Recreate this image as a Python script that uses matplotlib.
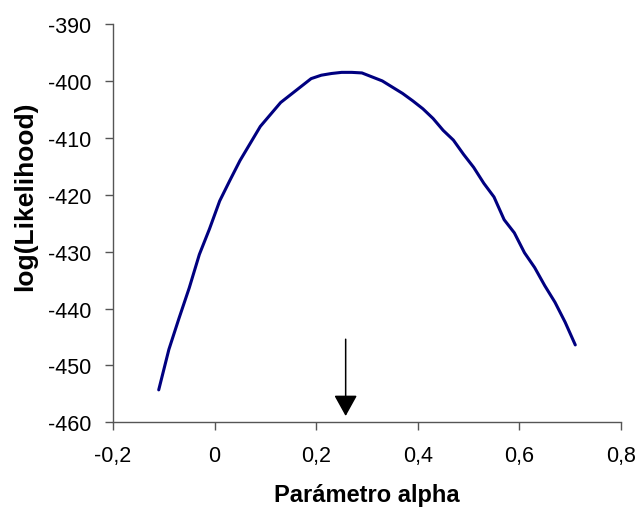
import matplotlib
matplotlib.use("Agg")
import matplotlib.pyplot as plt
from matplotlib.ticker import FuncFormatter

# Profile log-likelihood over the alpha parameter
alpha = [-0.11, -0.09, -0.07, -0.05, -0.03, -0.01, 0.01, 0.03, 0.05, 0.07,
         0.09, 0.11, 0.13, 0.15, 0.17, 0.19, 0.21, 0.23, 0.25, 0.27,
         0.29, 0.31, 0.33, 0.35, 0.37, 0.39, 0.41, 0.43, 0.45, 0.47,
         0.49, 0.51, 0.53, 0.55, 0.57, 0.59, 0.61, 0.63, 0.65, 0.67,
         0.69, 0.71]
loglik = [-454.3, -447.2, -441.7, -436.4, -430.5, -426.0, -421.1, -417.5, -414.0, -411.0,
          -408.0, -405.9, -403.8, -402.4, -401.0, -399.6, -399.0, -398.7, -398.5, -398.5,
          -398.6, -399.3, -400.0, -401.1, -402.2, -403.5, -404.9, -406.6, -408.7, -410.4,
          -412.9, -415.2, -418.0, -420.4, -424.4, -426.7, -430.2, -432.8, -436.0, -438.9,
          -442.4, -446.4]

# Marked maximum-likelihood estimate
alpha_hat = 0.258
arrow_top = -445.4
arrow_tip = -458.9

x_ticks = [-0.2, 0.0, 0.2, 0.4, 0.6, 0.8]
y_ticks = [-460, -450, -440, -430, -420, -410, -400, -390]

plt.rcParams['font.family'] = ['Liberation Sans', 'DejaVu Sans']

W, H = 639, 510
fig = plt.figure(figsize=(W / 100, H / 100), dpi=100)
left, right, bottom, top = 113, 621, 423.3, 25
ax = fig.add_axes([left / W, 1 - bottom / H, (right - left) / W, (bottom - top) / H])

ax.plot(alpha, loglik, color='#000080', linewidth=2.2, solid_capstyle='round',
        solid_joinstyle='round')

ax.annotate('', xy=(alpha_hat, arrow_tip), xytext=(alpha_hat, arrow_top),
            arrowprops=dict(arrowstyle='-|>,head_length=1.3,head_width=0.72',
                            color='black', linewidth=1.1, shrinkA=0, shrinkB=0))

ax.set_xlim(-0.2, 0.8)
ax.set_ylim(-460, -390)
ax.set_xticks(x_ticks)
ax.set_yticks(y_ticks)


def comma_fmt(v, pos):
    if abs(v) < 1e-9:
        return '0'
    return ('%.1f' % v).replace('.', ',')


ax.xaxis.set_major_formatter(FuncFormatter(comma_fmt))
ax.yaxis.set_major_formatter(FuncFormatter(lambda v, p: '%d' % v))

for side in ('top', 'right'):
    ax.spines[side].set_visible(False)
for side in ('left', 'bottom'):
    ax.spines[side].set_color('#555555')
    ax.spines[side].set_linewidth(1.0)

ax.tick_params(axis='both', direction='out', length=6, width=1.0, color='#555555',
               labelsize=15.5, labelcolor='black')
ax.tick_params(axis='y', pad=9.4)
ax.tick_params(axis='x', pad=10.5)

ax.set_xlabel('Parámetro alpha', fontsize=17, fontweight='bold', labelpad=12)
ax.set_ylabel('log(Likelihood)', fontsize=19, fontweight='bold')
ax.yaxis.set_label_coords((37.5 - left) / (right - left), (bottom - 196) / (bottom - top))

fig.savefig('out.png', dpi=100, facecolor='white')
